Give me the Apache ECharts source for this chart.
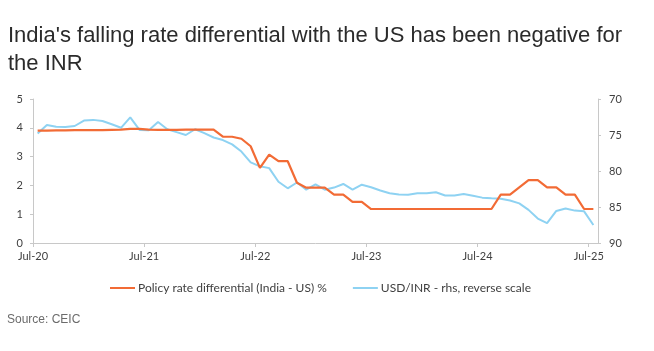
<!DOCTYPE html>
<html>
<head>
<meta charset="utf-8">
<title>India rate differential vs USD/INR</title>
<script src="https://cdn.jsdelivr.net/npm/echarts@6/dist/echarts.min.js"></script>
<style>
  html, body { margin: 0; padding: 0; background: #fff; }
  #chart { width: 654px; height: 351px; }
</style>
</head>
<body>
<div id="chart"></div>
<script>
// monthly points, Jul-20 .. Jul-25
const months = [
  'Jul-20', 'Aug-20', 'Sep-20', 'Oct-20', 'Nov-20', 'Dec-20',
  'Jan-21', 'Feb-21', 'Mar-21', 'Apr-21', 'May-21', 'Jun-21', 'Jul-21', 'Aug-21', 'Sep-21', 'Oct-21', 'Nov-21', 'Dec-21',
  'Jan-22', 'Feb-22', 'Mar-22', 'Apr-22', 'May-22', 'Jun-22', 'Jul-22', 'Aug-22', 'Sep-22', 'Oct-22', 'Nov-22', 'Dec-22',
  'Jan-23', 'Feb-23', 'Mar-23', 'Apr-23', 'May-23', 'Jun-23', 'Jul-23', 'Aug-23', 'Sep-23', 'Oct-23', 'Nov-23', 'Dec-23',
  'Jan-24', 'Feb-24', 'Mar-24', 'Apr-24', 'May-24', 'Jun-24', 'Jul-24', 'Aug-24', 'Sep-24', 'Oct-24', 'Nov-24', 'Dec-24',
  'Jan-25', 'Feb-25', 'Mar-25', 'Apr-25', 'May-25', 'Jun-25', 'Jul-25'
];

// Policy rate differential (India - US), %
const rateDiff = [
  3.90, 3.90, 3.91, 3.91, 3.92, 3.92,
  3.92, 3.92, 3.93, 3.94, 3.96, 3.96, 3.94, 3.93, 3.93, 3.93, 3.94, 3.94,
  3.94, 3.94, 3.69, 3.69, 3.62, 3.36, 2.61, 3.07, 2.84, 2.84, 2.09, 1.92,
  1.92, 1.92, 1.68, 1.68, 1.43, 1.43, 1.18, 1.18, 1.18, 1.18, 1.18, 1.18,
  1.18, 1.18, 1.18, 1.18, 1.18, 1.18, 1.18, 1.18, 1.68, 1.68, 1.93, 2.18,
  2.18, 1.93, 1.93, 1.68, 1.68, 1.18, 1.18
];

// USD/INR (rhs, reverse scale)
const usdInr = [
  74.8, 73.6, 73.85, 73.9, 73.75, 73.0,
  72.9, 73.05, 73.5, 74.0, 72.55, 74.3, 74.35, 73.2, 74.2, 74.6, 75.0, 74.2,
  74.75, 75.35, 75.7, 76.3, 77.3, 78.8, 79.35, 79.6, 81.5, 82.4, 81.6, 82.6,
  81.85, 82.6, 82.3, 81.8, 82.6, 81.9, 82.25, 82.7, 83.1, 83.25, 83.3, 83.1,
  83.1, 82.95, 83.4, 83.4, 83.2, 83.45, 83.7, 83.8, 83.85, 84.1, 84.5, 85.4,
  86.6, 87.25, 85.55, 85.2, 85.5, 85.6, 87.5
];

const tickLabels = ['Jul-20', 'Jul-21', 'Jul-22', 'Jul-23', 'Jul-24', 'Jul-25'];
const leftTicks = [0, 1, 2, 3, 4, 5];
const rightTicks = [70, 75, 80, 85, 90];

const orange = '#F26B35';
const blue = '#8ED2F2';
const axisGrey = '#C8C8C8';
const labelColor = '#404040';

// x position is month number counted from Jul-20, plotted mid-month
const toPoints = (vals) => vals.map((v, i) => [i + 0.5, v]);

const myChart = echarts.init(document.getElementById('chart'));

const option = {
  animation: false,
  backgroundColor: '#fff',
  title: {
    text: "India's falling rate differential with the US has been negative for\nthe INR",
    left: 3,
    top: 17,
    textStyle: {
      fontFamily: 'Liberation Sans',
      fontSize: 22,
      fontWeight: 'normal',
      color: '#2b2b2b',
      lineHeight: 28
    }
  },
  graphic: [{
    type: 'text',
    left: 7,
    top: 314,
    style: {
      text: 'Source: CEIC',
      font: '12px "Liberation Sans"',
      fill: '#6b6b6b'
    }
  }],
  legend: {
    left: 105,
    top: 277,
    itemWidth: 25,
    itemHeight: 2,
    itemGap: 26,
    icon: 'rect',
    textStyle: {
      fontFamily: 'Lato',
      fontSize: 12,
      color: labelColor,
      padding: [0, 0, 0, -2]
    },
    data: ['Policy rate differential (India - US) %', 'USD/INR - rhs, reverse scale']
  },
  grid: {
    left: 33,
    right: 56,
    top: 99,
    height: 144
  },
  xAxis: {
    type: 'value',
    min: 0,
    max: 61,
    interval: 12,
    splitLine: { show: false },
    axisLine: { show: true, lineStyle: { color: axisGrey } },
    axisTick: { show: true, length: 4, lineStyle: { color: axisGrey } },
    axisLabel: {
      margin: 8,
      showMaxLabel: false,
      fontFamily: 'Lato',
      fontSize: 11,
      color: labelColor,
      formatter: (v) => tickLabels[v / 12] || ''
    }
  },
  yAxis: [
    {
      type: 'value',
      min: leftTicks[0],
      max: leftTicks[leftTicks.length - 1],
      interval: 1,
      splitLine: { show: false },
      axisLine: { show: true, lineStyle: { color: axisGrey } },
      axisTick: { show: true, length: 3, lineStyle: { color: axisGrey } },
      axisLabel: {
        margin: 10,
        fontFamily: 'Lato',
        fontSize: 11,
        color: labelColor
      }
    },
    {
      type: 'value',
      inverse: true,
      min: rightTicks[0],
      max: rightTicks[rightTicks.length - 1],
      interval: 5,
      position: 'right',
      splitLine: { show: false },
      axisLine: { show: true, lineStyle: { color: axisGrey } },
      axisTick: { show: true, length: 3, lineStyle: { color: axisGrey } },
      axisLabel: {
        margin: 11,
        fontFamily: 'Lato',
        fontSize: 11,
        color: labelColor
      }
    }
  ],
  series: [
    {
      name: 'Policy rate differential (India - US) %',
      type: 'line',
      yAxisIndex: 0,
      symbol: 'none',
      color: orange,
      lineStyle: { width: 2.2, color: orange },
      data: toPoints(rateDiff),
      z: 3
    },
    {
      name: 'USD/INR - rhs, reverse scale',
      type: 'line',
      yAxisIndex: 1,
      symbol: 'none',
      color: blue,
      lineStyle: { width: 2, color: blue },
      data: toPoints(usdInr),
      z: 2
    }
  ]
};

myChart.setOption(option);
</script>
</body>
</html>
